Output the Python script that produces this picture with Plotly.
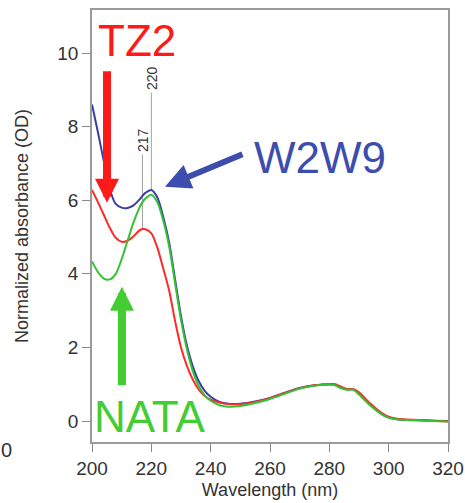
import plotly.graph_objects as go

# Wavelength grid (nm)
wavelength = [200, 202, 204, 206, 208, 210, 212, 214, 216, 217, 218, 220, 222, 224, 226,
              228, 230, 232, 234, 236, 238, 240, 243, 246, 250, 255, 260, 265, 270, 275,
              280, 282, 284, 286, 288, 290, 292, 294, 296, 298, 300, 303, 306, 310, 315, 320]

# Normalized absorbance (OD)
w2w9 = [8.60, 7.85, 7.05, 6.30, 5.90, 5.80, 5.79, 5.86, 6.02, 6.12, 6.20, 6.28, 6.08, 5.55, 4.85,
        3.85, 2.85, 2.05, 1.48, 1.08, 0.82, 0.66, 0.52, 0.47, 0.47, 0.53, 0.63, 0.77, 0.90, 0.97,
        1.00, 0.98, 0.90, 0.86, 0.86, 0.75, 0.58, 0.43, 0.29, 0.17, 0.10, 0.05, 0.03, 0.02, 0.01, 0.00]
tz2 = [6.28, 5.95, 5.60, 5.25, 4.98, 4.87, 4.90, 5.02, 5.18, 5.22, 5.21, 5.10, 4.72, 4.15, 3.55,
       2.72, 2.00, 1.50, 1.12, 0.85, 0.68, 0.58, 0.50, 0.46, 0.46, 0.52, 0.62, 0.76, 0.89, 0.97,
       1.00, 1.00, 0.93, 0.87, 0.87, 0.78, 0.62, 0.46, 0.32, 0.20, 0.12, 0.06, 0.04, 0.03, 0.01, -0.01]
nata = [4.34, 4.05, 3.87, 3.85, 4.00, 4.40, 4.90, 5.40, 5.80, 5.95, 6.05, 6.15, 5.95, 5.45, 4.75,
        3.75, 2.75, 1.95, 1.35, 0.95, 0.70, 0.55, 0.43, 0.39, 0.41, 0.49, 0.60, 0.74, 0.88, 0.96,
        0.99, 0.97, 0.89, 0.85, 0.85, 0.72, 0.56, 0.41, 0.28, 0.17, 0.09, 0.04, 0.03, 0.02, 0.00, -0.01]

series_names = ["W2W9", "TZ2", "NATA"]
line_colors = ["#3C3CA8", "#FF2A2A", "#33C233"]

peak_labels = ["217", "220"]
peak_wl = [217, 220]
peak_label_y = [7.65, 9.33]
peak_line_top = [7.24, 8.93]

x_ticks = [200, 220, 240, 260, 280, 300, 320]
y_ticks = [0, 2, 4, 6, 8, 10]

fig = go.Figure()
for name, ys, col in zip(series_names, [w2w9, tz2, nata], line_colors):
    fig.add_trace(go.Scatter(x=wavelength, y=ys, mode="lines", name=name,
                             line=dict(color=col, width=2, shape="spline", smoothing=0.8)))

# peak marker lines
peak_bottom = [tz2[wavelength.index(peak_wl[0])], w2w9[wavelength.index(peak_wl[1])]]
for wl, top, bot, lab, ly in zip(peak_wl, peak_line_top, peak_bottom, peak_labels, peak_label_y):
    fig.add_shape(type="line", x0=wl, x1=wl, y0=bot, y1=top, xref="x", yref="y",
                  line=dict(color="#A0A0A0", width=1), layer="below")
    fig.add_annotation(x=wl, y=ly, text=lab, showarrow=False, textangle=-90,
                       font=dict(size=14, color="#333333", family="Liberation Sans"))

big = dict(family="Liberation Sans", size=44)
fig.add_annotation(x=215.2, y=10.34, text="TZ2", showarrow=False,
                   font=dict(big, color="#FF1A1A"))
fig.add_annotation(x=276.8, y=7.16, text="W2W9", showarrow=False,
                   font=dict(big, color="#3D4DAE"))
fig.add_annotation(x=219.5, y=0.11, text="NATA", showarrow=False,
                   font=dict(big, color="#44CC33"))

# arrows
fig.add_annotation(x=205.06, y=5.93, ax=0, ay=-133, text="", showarrow=True,
                   arrowhead=2, arrowwidth=8, arrowsize=0.6, arrowcolor="#FF1A1A")
fig.add_annotation(x=224.6, y=6.37, ax=79, ay=-33, text="", showarrow=True,
                   arrowhead=2, arrowwidth=6, arrowsize=0.85, arrowcolor="#3D4DAE")
fig.add_annotation(x=210.1, y=3.65, ax=0, ay=100, text="", showarrow=True,
                   arrowhead=2, arrowwidth=8, arrowsize=0.6, arrowcolor="#44CC33")

# stray label at the left edge
fig.add_annotation(x=-92/356, y=(442-450)/432, xref="paper", yref="paper",
                   text="0", showarrow=False, xanchor="left", yanchor="middle",
                   borderpad=0, font=dict(size=20, color="#333333", family="Liberation Sans"))

axis_common = dict(showgrid=False, zeroline=False, showline=True, mirror=True,
                   linecolor="#9A9A9A", linewidth=1.5, ticks="outside", ticklen=8,
                   tickcolor="#8A8A8A", tickwidth=1, automargin=False,
                   tickfont=dict(size=19, color="#333333", family="Liberation Sans"))

fig.update_layout(
    width=465, height=503,
    margin=dict(l=92, r=17, t=10, b=61),
    paper_bgcolor="white", plot_bgcolor="white",
    showlegend=False,
    xaxis=dict(axis_common, range=[200, 320], tickvals=x_ticks,
               title=dict(text="Wavelength (nm)", standoff=6,
                          font=dict(size=18, color="#333333", family="Liberation Sans"))),
    yaxis=dict(axis_common, range=[-0.57, 11.17], tickvals=y_ticks,
               title=dict(text="Normalized absorbance (OD)", standoff=24,
                          font=dict(size=18, color="#333333", family="Liberation Sans"))),
)

fig.write_html("out.html")
